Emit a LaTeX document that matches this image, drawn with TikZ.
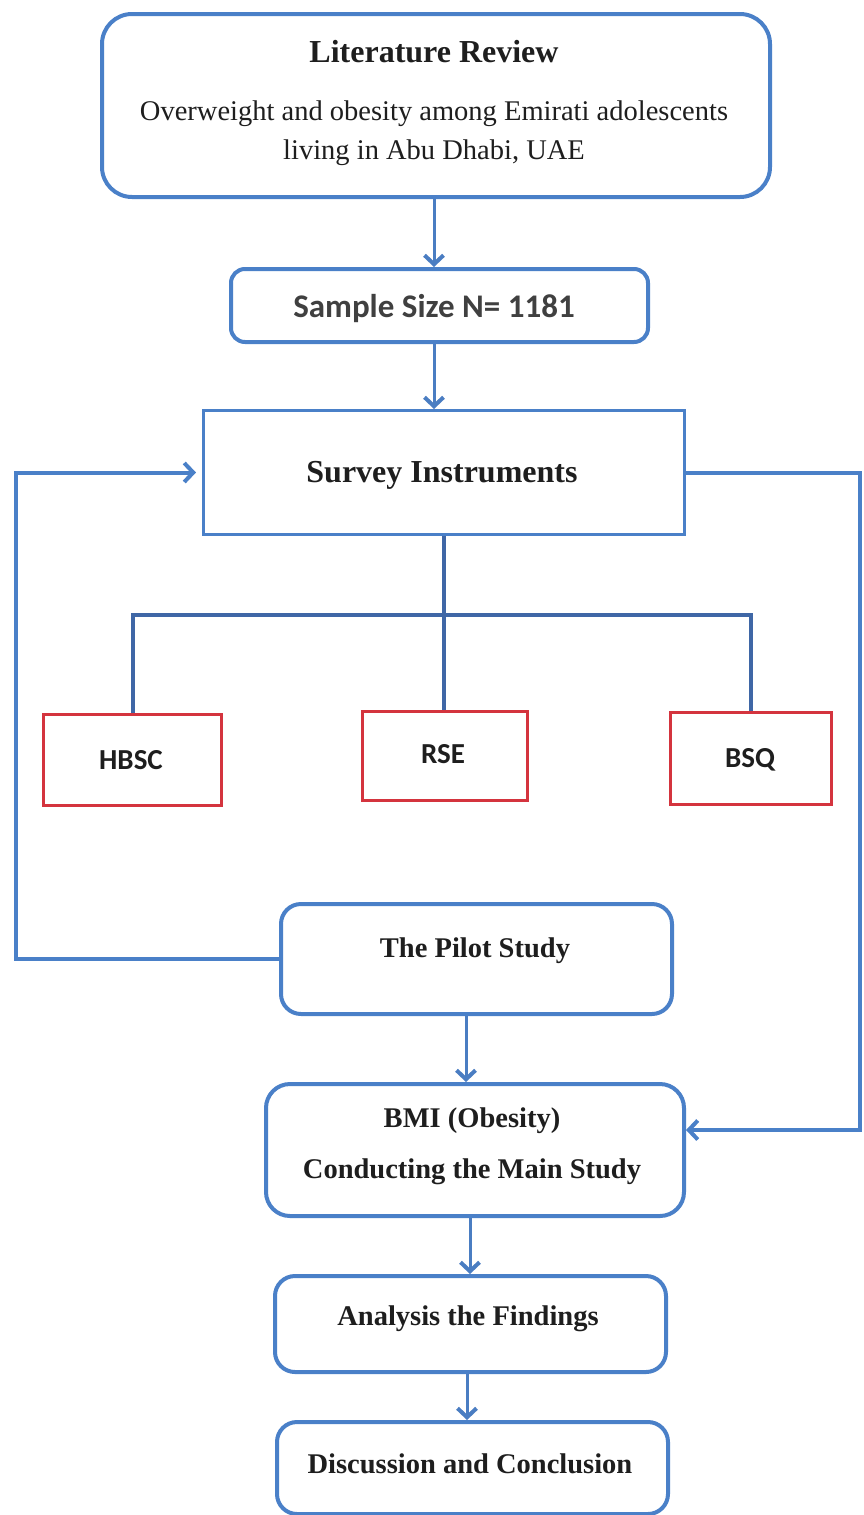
\documentclass[tikz,border=0pt]{standalone}
\usepackage{fontspec}
\setmainfont{Liberation Serif}
\newfontfamily\calfont{Carlito}
\usetikzlibrary{arrows.meta,calc}
\definecolor{bbox}{HTML}{4A80C8}
\definecolor{bline}{HTML}{3F67A6}
\definecolor{barr}{HTML}{4A7DC2}
\definecolor{rbox}{HTML}{D4343E}
\definecolor{txt}{HTML}{1E1E1E}
\definecolor{gtxt}{HTML}{404040}
\begin{document}
\begin{tikzpicture}[x=1pt,y=-1pt,
  bluebox/.style={draw=bbox,line width=4pt,rounded corners=#1,fill=white,anchor=north west,inner sep=0pt},
  plainbox/.style={draw=bbox,line width=3pt,fill=white,anchor=north west,inner sep=0pt},
  redbox/.style={draw=rbox,line width=3pt,fill=white,anchor=north west,inner sep=0pt},
  serifbold/.style={anchor=base,inner sep=0pt,text=txt,font=\fontsize{28.5}{32}\selectfont\bfseries},
  serifreg/.style={anchor=base,inner sep=0pt,text=txt,font=\fontsize{28.5}{32}\selectfont},
  sansbold/.style={anchor=base,inner sep=0pt,text=txt,font=\fontsize{29}{32}\selectfont\calfont\bfseries},
  arr/.style={draw=barr,line width=3pt,-{Straight Barb[length=9pt,width=19pt,line width=4pt]}},
  tree/.style={draw=bline,line width=4pt},
  loop/.style={draw=bbox,line width=4pt,-{Straight Barb[length=9pt,width=19pt,line width=4pt]}}
]
\useasboundingbox (0,0) rectangle (863,1515);
\fill[white] (0,0) rectangle (863,1515);

% boxes
\node[bluebox=30pt,minimum width=668pt,minimum height=183pt] (lit) at (100,12) {};
\node[bluebox=14pt,minimum width=417pt,minimum height=73pt] (samp) at (229,267) {};
\node[plainbox,minimum width=481pt,minimum height=124pt] (surv) at (202,409) {};
\node[redbox,minimum width=178pt,minimum height=91pt] (hbsc) at (42,713) {};
\node[redbox,minimum width=165pt,minimum height=89pt] (rse) at (361,710) {};
\node[redbox,minimum width=161pt,minimum height=92pt] (bsq) at (669,711) {};
\node[bluebox=20pt,minimum width=391pt,minimum height=110pt] (pilot) at (279,902) {};
\node[bluebox=24pt,minimum width=418pt,minimum height=132pt] (bmi) at (264,1082) {};
\node[bluebox=20pt,minimum width=391pt,minimum height=96pt] (ana) at (273,1274) {};
\node[bluebox=20pt,minimum width=391pt,minimum height=92pt] (disc) at (275,1420) {};

% texts
\node[serifbold,font=\fontsize{32}{36}\selectfont\bfseries] (litT) at (434,62) {Literature Review};
\node[serifreg] (litS1) at (434,120) {Overweight and obesity among Emirati adolescents};
\node[serifreg] (litS2) at (434,159) {living in Abu Dhabi, UAE};
\node[sansbold,text=gtxt,font=\fontsize{33}{36}\selectfont\calfont\bfseries] (sampT) at (434,317) {Sample Size N= 1181};
\node[serifbold,font=\fontsize{32}{36}\selectfont\bfseries] (survT) at (442,482) {Survey Instruments};
\node[sansbold] (hbscT) at (131,769) {HBSC};
\node[sansbold] (rseT) at (443,763) {RSE};
\node[sansbold] (bsqT) at (750,767) {BSQ};
\node[serifbold] (pilotT) at (475,957) {The Pilot Study};
\node[serifbold] (bmiT1) at (472,1127) {BMI (Obesity)};
\node[serifbold] (bmiT2) at (472,1178) {Conducting the Main Study};
\node[serifbold] (anaT) at (468,1325) {Analysis the Findings};
\node[serifbold] (discT) at (470,1473) {Discussion and Conclusion};

% coordinates
\coordinate (bar) at (0,615);
\coordinate (lx) at (16,0);
\coordinate (rx) at (860,0);

% connectors
\draw[arr] (lit.south -| 434,0) -- (samp.north -| 434,0);
\draw[arr] (samp.south -| 434,0) -- (surv.north -| 434,0);
\draw[tree] (surv.south) -- (surv.south |- rse.north);
\draw[tree] (hbsc.north) -- (hbsc.north |- bar) -- (bsq.north |- bar) -- (bsq.north);
\draw[loop,shorten >=6pt] (pilot.west) -- (pilot.west -| lx) |- (surv.west);
\draw[loop] (surv.east) -- (surv.east -| rx) |- ($(bmi.east)+(0,-20)$);
\draw[arr] (pilot.south -| 466,0) -- (bmi.north -| 466,0);
\draw[arr] (bmi.south -| 470,0) -- (ana.north -| 470,0);
\draw[arr] (ana.south -| 467,0) -- (disc.north -| 467,0);
\end{tikzpicture}
\end{document}
